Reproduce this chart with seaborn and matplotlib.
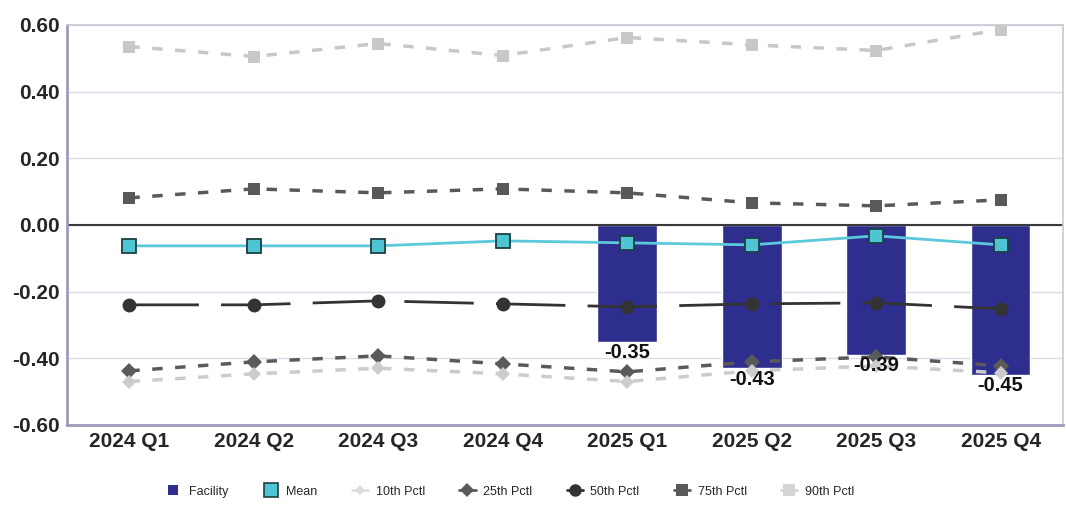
import numpy as np
import pandas as pd
import matplotlib.pyplot as plt
import seaborn as sns
from matplotlib.lines import Line2D

# ==================== DONNÉES ====================
quarters = ['2024 Q1', '2024 Q2', '2024 Q3', '2024 Q4',
            '2025 Q1', '2025 Q2', '2025 Q3', '2025 Q4']
fac_quarters = ['2025 Q1', '2025 Q2', '2025 Q3', '2025 Q4']
facility = [-0.35, -0.43, -0.39, -0.45]
mean_vals = [-0.063, -0.063, -0.063, -0.048, -0.054, -0.060, -0.033, -0.060]
p10 = [-0.470, -0.447, -0.430, -0.447, -0.470, -0.438, -0.423, -0.444]
p25 = [-0.438, -0.411, -0.393, -0.417, -0.441, -0.411, -0.396, -0.423]
p50 = [-0.240, -0.240, -0.228, -0.237, -0.246, -0.237, -0.234, -0.252]
p75 = [0.081, 0.108, 0.096, 0.108, 0.096, 0.066, 0.057, 0.075]
p90 = [0.535, 0.505, 0.544, 0.508, 0.562, 0.540, 0.523, 0.586]
yticks = [-0.60, -0.40, -0.20, 0.00, 0.20, 0.40, 0.60]

# ==================== FIGURE ====================
sns.set_style('white')
plt.rcParams['font.family'] = ['Liberation Sans', 'DejaVu Sans']

fig = plt.figure(figsize=(10.66, 5.07), dpi=100)
ax = fig.add_axes([0.063, 0.162, 0.934, 0.789])

df_fac = pd.DataFrame({'quarter': fac_quarters, 'value': facility})
df = pd.DataFrame({'pos': np.arange(len(quarters)), 'mean': mean_vals,
                   'p10': p10, 'p25': p25, 'p50': p50, 'p75': p75, 'p90': p90})

# Barres Facility
sns.barplot(data=df_fac, x='quarter', y='value', order=quarters,
            color='#2e2e8e', saturation=1, width=0.48, ax=ax, zorder=2)

# Valeurs sous les barres
for q, v in zip(fac_quarters, facility):
    ax.text(quarters.index(q), v - 0.004, f'{v:.2f}', ha='center', va='top',
            fontsize=14.5, fontweight='bold', color='#111111', zorder=6)

# Percentiles
series = [
    ('p90', '#c8c8c8', 's', 9, (3, 3.6)),
    ('p75', '#595959', 's', 9, (3, 3.6)),
    ('p25', '#5a5a5a', 'D', 8, (3, 3.6)),
    ('p10', '#cccccc', 'D', 7, (3, 3.6)),
]
for col, color, marker, ms, dash in series:
    sns.lineplot(data=df, x='pos', y=col, ax=ax, color=color, linewidth=2.5,
                 marker=marker, markersize=ms, markeredgewidth=0,
                 dashes=False, zorder=3)
    ax.lines[-1].set_dashes(dash)

sns.lineplot(data=df, x='pos', y='p50', ax=ax, color='#333333', linewidth=2,
             marker='o', markersize=10, markeredgewidth=0, zorder=4)
ax.lines[-1].set_dashes((25, 8))

sns.lineplot(data=df, x='pos', y='mean', ax=ax, color='#5cc8dc', linewidth=2,
             marker='s', markersize=10, markerfacecolor='#4fc4d2',
             markeredgecolor='#1c3f44', markeredgewidth=1.3, zorder=5)

ax.axhline(0, color='#3a3a3a', linewidth=1.5, zorder=2.5)

# Axes
ax.set_xlim(-0.5, len(quarters) - 0.5)
ax.set_ylim(-0.6, 0.6)
ax.set_xticks(range(len(quarters)))
ax.set_xticklabels(quarters, fontsize=15, fontweight='bold')
ax.set_yticks(yticks)
ax.set_yticklabels([f'{t:.2f}' for t in yticks], fontsize=15, fontweight='bold')
ax.set_xlabel('')
ax.set_ylabel('')
ax.tick_params(length=0, pad=5)
ax.yaxis.grid(True, color='#dcdcea', linewidth=1)
ax.set_axisbelow(True)
for side in ['left', 'bottom']:
    ax.spines[side].set_color('#9c9cbc')
    ax.spines[side].set_linewidth(2)
for side in ['top', 'right']:
    ax.spines[side].set_color('#c8c8d4')
    ax.spines[side].set_linewidth(1.2)

# Légende
handles = [
    Line2D([], [], color='none', marker='s', markersize=7, markerfacecolor='#2e2e8e', markeredgewidth=0),
    Line2D([], [], color='none', marker='s', markersize=10, markerfacecolor='#4fc4d2',
           markeredgecolor='#1c3f44', markeredgewidth=1.2),
    Line2D([], [], color='#dddddd', marker='D', markersize=5, markeredgewidth=0, linewidth=2),
    Line2D([], [], color='#5a5a5a', marker='D', markersize=7, markeredgewidth=0, linewidth=2),
    Line2D([], [], color='#333333', marker='o', markersize=9, markeredgewidth=0, linewidth=2),
    Line2D([], [], color='#595959', marker='s', markersize=8, markeredgewidth=0, linewidth=2),
    Line2D([], [], color='#d4d4d4', marker='s', markersize=8, markeredgewidth=0, linewidth=2),
]
labels = ['Facility', 'Mean', '10th Pctl', '25th Pctl', '50th Pctl', '75th Pctl', '90th Pctl']
fig.legend(handles, labels, loc='center', bbox_to_anchor=(0.478, 0.03), ncol=7,
           frameon=False, fontsize=9, handlelength=1.3, columnspacing=2.75,
           handletextpad=0.6)

fig.savefig('out.png', dpi=100)
